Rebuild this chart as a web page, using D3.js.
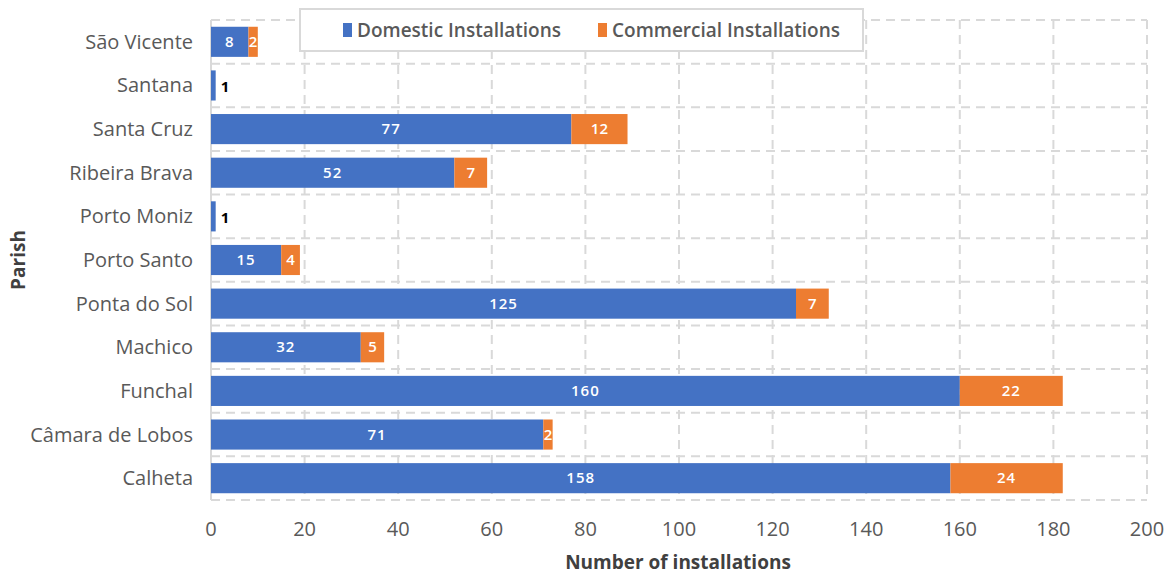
<!DOCTYPE html>
<html><head><meta charset="utf-8">
<script src="https://cdn.jsdelivr.net/npm/d3@7/dist/d3.min.js"></script>
<style>body{margin:0;background:#fff}svg{display:block}text{font-family:"Open Sans",Lato,sans-serif}</style>
</head><body>
<svg id="c" width="1172" height="574"></svg>
<script>
const parishes = ["São Vicente","Santana","Santa Cruz","Ribeira Brava","Porto Moniz","Porto Santo","Ponta do Sol","Machico","Funchal","Câmara de Lobos","Calheta"];
const domestic = [8,1,77,52,1,15,125,32,160,71,158];
const commercial = [2,0,12,7,0,4,7,5,22,2,24];
const seriesNames = ["Domestic Installations","Commercial Installations"];
const xTicks = [0,20,40,60,80,100,120,140,160,180,200];
const colors = ["#4472C4","#ED7D31"];

const svg = d3.select("#c");
const L=211, R=1147, T=20, B=500;
const x = d3.scaleLinear().domain([0,200]).range([L,R]);
const y = d3.scaleBand().domain(parishes).range([T,B]).paddingInner(0.31).paddingOuter(0.155);

// grid
const g = svg.append("g");
xTicks.forEach(t=>{ if(t>0) g.append("line").attr("x1",x(t)).attr("x2",x(t)).attr("y1",T).attr("y2",B)
  .attr("stroke","#d9d9d9").attr("stroke-width",2).attr("stroke-dasharray","9,6"); });
for(let i=0;i<=parishes.length;i++){
  const yy = T + i*(B-T)/parishes.length;
  g.append("line").attr("x1",L).attr("x2",R).attr("y1",yy).attr("y2",yy)
   .attr("stroke","#d9d9d9").attr("stroke-width",2).attr("stroke-dasharray","9,6");
}
g.append("line").attr("x1",L).attr("x2",L).attr("y1",T).attr("y2",B).attr("stroke","#d9d9d9").attr("stroke-width",2);

// bars
const data = parishes.map((p,i)=>({p, d:domestic[i], c:commercial[i]}));
const bars = svg.append("g");
data.forEach(r=>{
  bars.append("rect").attr("x",x(0)).attr("y",y(r.p)).attr("width",x(r.d)-x(0)).attr("height",y.bandwidth()).attr("fill",colors[0]);
  if(r.c>0) bars.append("rect").attr("x",x(r.d)).attr("y",y(r.p)).attr("width",x(r.d+r.c)-x(r.d)).attr("height",y.bandwidth()).attr("fill",colors[1]);
});
// labels
const lab = svg.append("g").attr("font-size",15).attr("font-weight",600);
data.forEach(r=>{
  const cy = y(r.p)+y.bandwidth()/2+5;
  const wD = x(r.d)-x(0);
  if(wD>10){
    lab.append("text").attr("x",(x(0)+x(r.d))/2).attr("y",cy).attr("text-anchor","middle").attr("fill","#fff").attr("letter-spacing",1).text(r.d);
  } else {
    lab.append("text").attr("x",x(r.d)+5).attr("y",cy+2).attr("fill","#000").attr("font-weight",700).text(r.d);
  }
  if(r.c>0){
    const wC = x(r.d+r.c)-x(r.d);
    lab.append("text").attr("x",(x(r.d)+x(r.d+r.c))/2).attr("y",cy).attr("text-anchor","middle")
      .attr("fill", wC>8? "#fff":"#000").attr("font-weight", wC>8?600:700).attr("letter-spacing", wC>60?1:0).text(r.c);
  }
});

// x axis tick labels
const ax = svg.append("g").attr("font-size",20).attr("fill","#595959");
xTicks.forEach(t=>ax.append("text").attr("x",x(t)).attr("y",536).attr("text-anchor","middle").text(t));
// y labels
const ay = svg.append("g").attr("font-size",20).attr("fill","#595959");
parishes.forEach(p=>ay.append("text").attr("x",193).attr("y",y(p)+y.bandwidth()/2+7).attr("text-anchor","end").text(p));

// axis titles
svg.append("text").attr("x",678).attr("y",569).attr("text-anchor","middle").attr("font-size",19).attr("font-weight",700).attr("fill","#404040").text("Number of installations");
svg.append("text").attr("transform","translate(25,260) rotate(-90)").attr("text-anchor","middle").attr("font-size",19).attr("font-weight",700).attr("fill","#404040").text("Parish");

// legend
const lg = svg.append("g");
lg.append("rect").attr("x",300).attr("y",9).attr("width",563).attr("height",42).attr("fill","#fff").attr("stroke","#d9d9d9").attr("stroke-width",2);
const lx = [343,598];
seriesNames.forEach((s,i)=>{
  lg.append("rect").attr("x",lx[i]).attr("y",23).attr("width",9).attr("height",14).attr("fill",colors[i]);
  lg.append("text").attr("x",lx[i]+14).attr("y",37).attr("font-size",19).attr("font-weight",600).attr("fill","#595959").text(s);
});
</script>
</body></html>
